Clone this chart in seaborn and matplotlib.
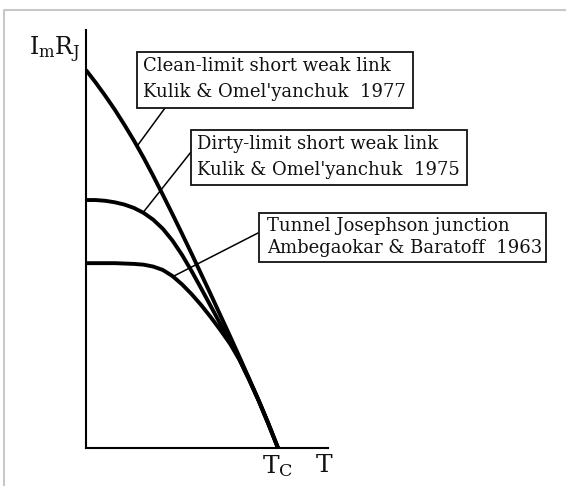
import numpy as np
import pandas as pd
import matplotlib
matplotlib.use("Agg")
import matplotlib.pyplot as plt
from matplotlib.patches import Rectangle
from matplotlib.lines import Line2D
import seaborn as sns

# Reduced temperature T/Tc
t_red = [0.00, 0.05, 0.10, 0.15, 0.20, 0.25, 0.30, 0.35, 0.40, 0.45, 0.50,
         0.55, 0.60, 0.65, 0.70, 0.75, 0.80, 0.85, 0.90, 0.95, 1.00]

# I_m R_J normalised to the clean-limit value at T = 0
clean_limit = [1.000, 0.967, 0.932, 0.895, 0.855, 0.813, 0.768, 0.720, 0.670, 0.619, 0.567,
               0.514, 0.460, 0.406, 0.351, 0.296, 0.240, 0.183, 0.125, 0.063, 0.000]
dirty_limit = [0.656, 0.656, 0.654, 0.650, 0.644, 0.635, 0.622, 0.604, 0.580, 0.549, 0.511,
               0.468, 0.422, 0.375, 0.328, 0.281, 0.233, 0.181, 0.125, 0.065, 0.000]
tunnel_junction = [0.489, 0.489, 0.489, 0.489, 0.488, 0.487, 0.485, 0.480, 0.471, 0.455, 0.433,
                   0.407, 0.378, 0.346, 0.312, 0.276, 0.233, 0.180, 0.124, 0.064, 0.000]

series_names = ["clean", "dirty", "tunnel"]
box_lines = [
    ["Clean-limit short weak link", "Kulik & Omel'yanchuk  1977"],
    ["Dirty-limit short weak link", "Kulik & Omel'yanchuk  1975"],
    ["Tunnel Josephson junction", "Ambegaokar & Baratoff  1963"],
]
x_tick_labels = [r"T$_\mathrm{C}$", "T"]
y_axis_label = r"I$_\mathrm{m}$R$_\mathrm{J}$"

df = pd.DataFrame({
    "T": t_red * 3,
    "IR": clean_limit + dirty_limit + tunnel_junction,
    "curve": sum([[n] * len(t_red) for n in series_names], []),
})

sns.set_style("white")
plt.rcParams["font.family"] = ["DejaVu Serif"]
plt.rcParams["mathtext.fontset"] = "custom"
plt.rcParams["mathtext.rm"] = "DejaVu Serif"
plt.rcParams["mathtext.it"] = "DejaVu Serif"

W, H = 566, 486
fig = plt.figure(figsize=(W / 100, H / 100), dpi=100)
fig.patch.set_facecolor("white")


def fx(px):
    return px / W


def fy(py):
    return 1 - py / H


ax = fig.add_axes([fx(86), 38 / H, 242 / W, 418 / H])
sns.lineplot(data=df, x="T", y="IR", hue="curve", palette=["black"] * 3,
             linewidth=2.8, legend=False, ax=ax,
             solid_capstyle="butt", solid_joinstyle="round")
ax.set_xlim(0, 242 / 192)
ax.set_ylim(0, 418 / 378)
for side in ["top", "right"]:
    ax.spines[side].set_visible(False)
for side in ["left", "bottom"]:
    ax.spines[side].set_color("black")
    ax.spines[side].set_linewidth(1.5)
ax.set_xlabel("")
ax.set_ylabel("")
ax.set_yticks([])
ax.set_xticks([1.0, (324 - 86) / 192])
ax.set_xticklabels(x_tick_labels, fontsize=18, color="#111111")
ax.tick_params(axis="x", length=0, pad=4)
ax.set_facecolor("white")

# Axis label for the vertical axis
fig.text(fx(81), fy(55), y_axis_label, ha="right", va="baseline",
         fontsize=17, color="#111111")

# Light grey frame around the figure (top and left edges)
fig.add_artist(Line2D([fx(4), fx(4), 1.0], [0.0, fy(10), fy(10)],
                      transform=fig.transFigure, color="#c8c8c8", lw=1.5))

# Annotation boxes: (x0, y0, x1, y1) in pixels, text left, line centres
boxes = [
    (137, 52, 413, 108, 143, (66, 92)),
    (191, 130, 467, 185, 197, (144, 170)),
    (259, 213, 546, 262, 267, (226, 248)),
]
for (x0, y0, x1, y1, tx, (l1, l2)), lines in zip(boxes, box_lines):
    fig.add_artist(Rectangle((fx(x0), fy(y1)), fx(x1) - fx(x0), fy(y0) - fy(y1),
                             transform=fig.transFigure, fill=True, facecolor="white",
                             edgecolor="#111111", lw=1.3, zorder=5))
    fig.text(fx(tx), fy(l1), lines[0], ha="left", va="center", fontsize=13,
             color="#111111", zorder=6)
    fig.text(fx(tx), fy(l2), lines[1], ha="left", va="center", fontsize=13,
             color="#111111", zorder=6)

# Leader lines from each box to its curve
curves = [clean_limit, dirty_limit, tunnel_junction]
leaders = [((165, 108), 0.266), ((191, 152), 0.297), ((258, 233), 0.453)]
for ((sx, sy), t_at), curve in zip(leaders, curves):
    ax.annotate("", xy=(t_at, np.interp(t_at, t_red, curve)), xycoords="data",
                xytext=(fx(sx), fy(sy)), textcoords="figure fraction",
                arrowprops=dict(arrowstyle="-", lw=1.1, color="black",
                                shrinkA=0, shrinkB=0))

fig.savefig("out.png", dpi=100, facecolor="white")
